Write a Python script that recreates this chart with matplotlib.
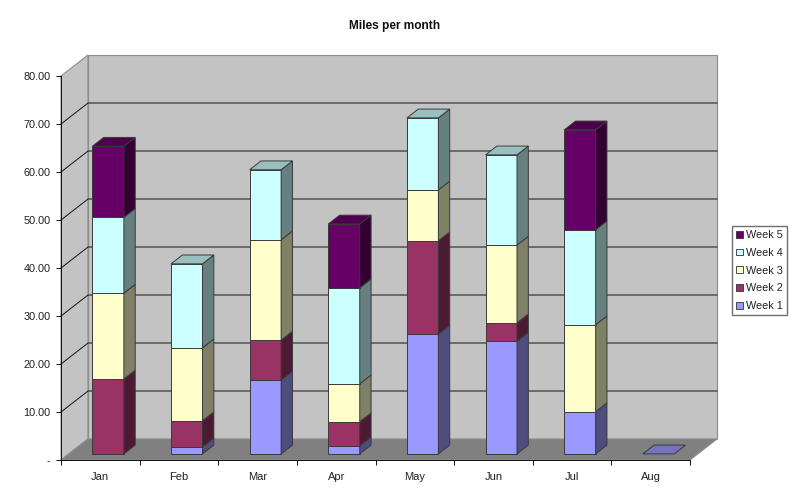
import matplotlib
matplotlib.use('Agg')
import matplotlib.pyplot as plt
from matplotlib.patches import Polygon, Patch

plt.rcParams['font.family'] = ['Liberation Sans', 'DejaVu Sans']
plt.rcParams['font.size'] = 8

months = ['Jan', 'Feb', 'Mar', 'Apr', 'May', 'Jun', 'Jul', 'Aug']
week1 = [0, 1.5, 15.4, 1.7, 25.0, 23.5, 8.8, 0]
week2 = [15.6, 5.4, 8.3, 5.0, 19.4, 3.8, 0, 0]
week3 = [17.9, 15.2, 20.9, 7.9, 10.6, 16.2, 18.1, 0]
week4 = [15.8, 17.5, 14.6, 20.0, 15.0, 18.8, 19.8, 0]
week5 = [14.8, 0, 0, 13.3, 0, 0, 20.8, 0]
yticks = [0, 10, 20, 30, 40, 50, 60, 70, 80]
weeks = ['Week 1', 'Week 2', 'Week 3', 'Week 4', 'Week 5']
series = [week1, week2, week3, week4, week5]
colors = ['#9999FF', '#993366', '#FFFFCC', '#CCFFFF', '#660066']
side_colors = ['#4D4D80', '#4D1A33', '#808066', '#668080', '#330033']
top_colors = ['#7373BF', '#73264D', '#BFBF99', '#99BFBF', '#4D004D']

W, H = 792, 497
fig = plt.figure(figsize=(W / 100, H / 100), dpi=100)
# axes = front plane of the 3d box
ax = fig.add_axes([61 / W, (H - 460) / H, 629 / W, 384 / H])
ax.set_xlim(0, 8)
ax.set_ylim(0, 80)
ax.patch.set_visible(False)

# depth shear in data units
DX = 27 / 78.6
DY = 21 / 4.8


def poly(pts, fc, ec='#8C8C8C', lw=0.8, z=1):
    ax.add_patch(Polygon(pts, closed=True, facecolor=fc, edgecolor=ec,
                         linewidth=lw, zorder=z, clip_on=False))


# walls and floor
poly([(0, 0), (DX, DY), (DX, 80 + DY), (0, 80)], '#C3C3C3')
poly([(DX, DY), (8 + DX, DY), (8 + DX, 80 + DY), (DX, 80 + DY)], '#C3C3C3')
poly([(0, 0), (8, 0), (8 + DX, DY), (DX, DY)], '#808080')

# gridlines
for v in yticks[1:-1]:
    ax.plot([0, DX, 8 + DX], [v, v + DY, v + DY], color='#101010', lw=0.7,
            zorder=2, clip_on=False)

# stacked bars
bw = 0.4
d0, d1 = 0.29, 0.71
edge = '#3A3A3A'
for i in range(len(months)):
    x0 = i + 0.3 + d0 * DX
    x1 = x0 + bw
    x2 = x1 + (d1 - d0) * DX
    y_off = d0 * DY
    y_d = (d1 - d0) * DY
    bottom = 0
    last = 0
    for k in range(len(series)):
        v = series[k][i]
        if v == 0:
            continue
        y0 = bottom + y_off
        y1 = y0 + v
        ax.bar(x0, v, width=bw, bottom=y0, align='edge', color=colors[k],
               edgecolor=edge, linewidth=0.7, zorder=3, clip_on=False)
        poly([(x1, y0), (x2, y0 + y_d), (x2, y1 + y_d), (x1, y1)],
             side_colors[k], ec=edge, lw=0.7, z=3)
        bottom += v
        last = k
    # top face of the stack (flat blue one for the empty month)
    y1 = bottom + y_off
    poly([(x0, y1), (x1, y1), (x2, y1 + y_d), (x0 + (d1 - d0) * DX, y1 + y_d)],
         top_colors[last], ec=edge, lw=0.7, z=3)

# axes
ax.spines['top'].set_visible(False)
ax.spines['right'].set_visible(False)
ax.spines['left'].set_color('#101010')
ax.spines['bottom'].set_color('#101010')
ax.spines['left'].set_linewidth(0.7)
ax.spines['bottom'].set_linewidth(0.7)
ax.spines['left'].set_zorder(4)
ax.spines['bottom'].set_zorder(4)

ax.set_yticks(yticks)
ax.set_yticklabels(['-'] + ['%.2f' % v for v in yticks[1:]])
ax.set_xticks(range(9))
ax.set_xticklabels([])
ax.set_xticks([i + 0.5 for i in range(8)], minor=True)
ax.set_xticklabels(months, minor=True)
ax.tick_params(axis='x', which='major', length=3.6, width=0.7, color='#101010')
ax.tick_params(axis='x', which='minor', length=0, pad=9, labelcolor='#202020', labelsize=8)
ax.tick_params(axis='y', length=3.6, width=0.7, pad=4, color='#101010', labelcolor='#202020', labelsize=7.8)

fig.text(395 / W, 1 - 26 / H, 'Miles per month', ha='center', va='center',
         fontweight='bold', fontsize=8.6, color='#101010')

handles = [Patch(facecolor=colors[k], edgecolor='#303030', linewidth=0.6, label=weeks[k])
           for k in range(4, -1, -1)]
fig.legend(handles=handles, loc='upper left', bbox_to_anchor=(732 / W, 1 - 226 / H),
           borderaxespad=0, fancybox=False, framealpha=1, edgecolor='#707070',
           handlelength=0.6, handleheight=0.6, handletextpad=0.28, labelspacing=0.71,
           borderpad=0.38, fontsize=7.8, labelcolor='#202020')

fig.savefig('out.png', dpi=100)
